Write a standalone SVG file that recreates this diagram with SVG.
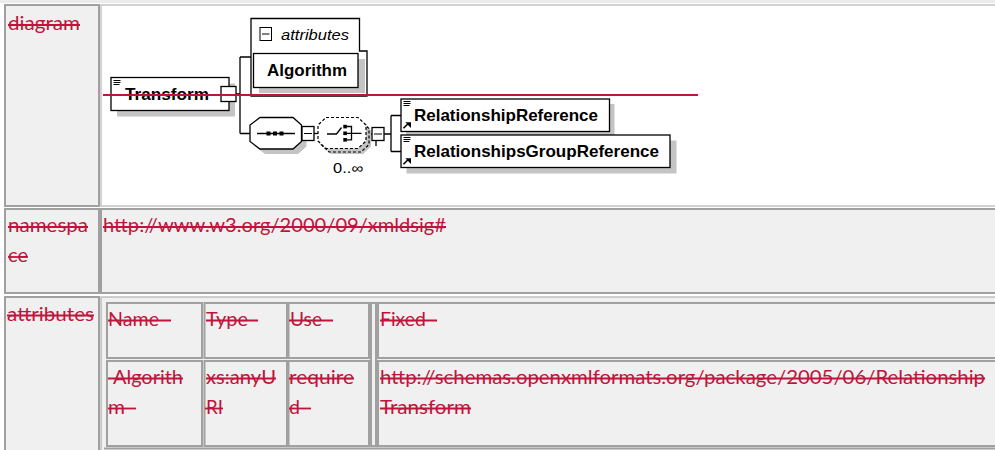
<svg xmlns="http://www.w3.org/2000/svg" width="995" height="450" viewBox="0 0 995 450">
<style>
.cg{fill:#f0f0f0;stroke:#a0a0a0;stroke-width:2}
.cw{fill:#fff;stroke:#c4c4c4;stroke-width:1.5}
.ct{fill:none;stroke:#a0a0a0;stroke-width:2}
.t{font-family:Lato,"Open Sans","Liberation Sans",sans-serif;font-size:20px;fill:#c0143c}
.s{stroke:#c0143c;stroke-width:1.8;fill:none}
.box{fill:#fff;stroke:#000;stroke-width:1.3}
.sh{fill:#c4c4c4}
.ln{fill:none;stroke:#000;stroke-width:1.3}
.ic{fill:none;stroke:#000;stroke-width:1}
.dash{fill:none;stroke:#000;stroke-width:1.2;stroke-dasharray:3 2}
.lb{font-family:"Liberation Sans",Arial,sans-serif;font-weight:bold;font-size:16.5px;fill:#000}
.li{font-family:"Liberation Sans",Arial,sans-serif;font-style:italic;font-size:15px;fill:#000}
.ln14{font-family:"Liberation Sans",Arial,sans-serif;font-size:14px;fill:#000}
</style>
<defs>
<g id="docicon"><path class="ic" d="M0,0.5 H7 M0,2.5 H7 M0,4.5 H6"/></g>
<g id="refarrow"><path d="M0,6.5 L4.5,2" stroke="#000" stroke-width="1.6"/><polygon points="1.8,0.5 7.5,0.5 7.5,6.2" fill="#000"/></g>
</defs>
<rect x="0" y="0" width="995" height="450" fill="#fff"/>
<rect x="0" y="0" width="995" height="3" fill="#ebebeb"/>
<g id="table">
<rect class="cg" x="5" y="5" width="94" height="201"/>
<rect class="cw" x="101" y="5" width="900" height="201"/>
<rect class="cg" x="5" y="209" width="94" height="84"/>
<rect class="cg" x="101" y="209" width="900" height="84"/>
<rect class="cg" x="5" y="297" width="94" height="160"/>
<rect x="101" y="297" width="900" height="160" fill="#f0f0f0" stroke="#b0b0b0" stroke-width="1.2"/>
<rect class="cg" x="107" y="303" width="95" height="55"/>
<rect class="cg" x="204.5" y="303" width="82.5" height="55"/>
<rect class="cg" x="288.5" y="303" width="80.5" height="55"/>
<rect class="cg" x="371" y="303" width="5" height="143"/>
<rect class="cg" x="378" y="303" width="630" height="55"/>
<rect class="cg" x="107" y="361" width="95" height="85"/>
<rect class="cg" x="204.5" y="361" width="82.5" height="85"/>
<rect class="cg" x="288.5" y="361" width="80.5" height="85"/>
<rect class="cg" x="378" y="361" width="630" height="85"/>
<path class="ct" d="M104,448.5 H995"/>
</g>
<g id="labels">
<text class="t" x="8" y="30" textLength="72" lengthAdjust="spacingAndGlyphs">diagram</text>
<path class="s" d="M8,25 H80"/>
<text class="t" x="8" y="232" textLength="80" lengthAdjust="spacingAndGlyphs">namespa</text>
<path class="s" d="M8,227 H88"/>
<text class="t" x="8" y="262" textLength="20" lengthAdjust="spacingAndGlyphs">ce</text>
<path class="s" d="M8,257 H28"/>
<text class="t" x="7" y="320.5" textLength="87" lengthAdjust="spacingAndGlyphs">attributes</text>
<path class="s" d="M7,315.5 H94"/>
<text class="t" x="103" y="232" textLength="343" lengthAdjust="spacingAndGlyphs">http://www.w3.org/2000/09/xmldsig#</text>
<path class="s" d="M103,227 H446"/>
<text class="t" x="108" y="325.5" textLength="51" lengthAdjust="spacingAndGlyphs">Name</text>
<path class="s" d="M108,320.5 H171"/>
<text class="t" x="206" y="325.5" textLength="42" lengthAdjust="spacingAndGlyphs">Type</text>
<path class="s" d="M206,320.5 H258"/>
<text class="t" x="290" y="325.5" textLength="32" lengthAdjust="spacingAndGlyphs">Use</text>
<path class="s" d="M289,320.5 H333"/>
<text class="t" x="380" y="325.5" textLength="46" lengthAdjust="spacingAndGlyphs">Fixed</text>
<path class="s" d="M380,320.5 H437"/>
<text class="t" x="113" y="383.5" textLength="70" lengthAdjust="spacingAndGlyphs">Algorith</text>
<path class="s" d="M108,378.5 H183"/>
<text class="t" x="108" y="413.5" textLength="17" lengthAdjust="spacingAndGlyphs">m</text>
<path class="s" d="M108,408.5 H136"/>
<text class="t" x="206" y="383.5" textLength="70" lengthAdjust="spacingAndGlyphs">xs:anyU</text>
<path class="s" d="M206,378.5 H276"/>
<text class="t" x="206" y="413.5" textLength="17" lengthAdjust="spacingAndGlyphs">RI</text>
<path class="s" d="M205,408.5 H223"/>
<text class="t" x="289" y="383.5" textLength="65" lengthAdjust="spacingAndGlyphs">require</text>
<path class="s" d="M289,378.5 H354"/>
<text class="t" x="289" y="413.5" textLength="11" lengthAdjust="spacingAndGlyphs">d</text>
<path class="s" d="M289,408.5 H311"/>
<text class="t" x="380" y="383.5" textLength="605" lengthAdjust="spacingAndGlyphs">http://schemas.openxmlformats.org/package/2005/06/Relationship</text>
<path class="s" d="M380,378.5 H985"/>
<text class="t" x="380" y="413.5" textLength="91" lengthAdjust="spacingAndGlyphs">Transform</text>
<path class="s" d="M380,408.5 H471"/>
</g>
<g id="connectors">
<path class="ln" d="M236,94 H240 M240,57 V133.5 M240,57 H251 M240,133.5 H250"/>
<path class="ln" d="M314,133.5 H318"/>
<path class="ln" d="M366,134 H372"/>
<path class="ln" d="M376,140.5 V146"/>
<path class="ln" d="M384,134 H391 M391,115.5 V151.5 M391,115.5 H401 M391,151.5 H401"/>
</g>
<g id="node-transform">
<rect class="sh" x="117" y="83.5" width="118" height="33"/>
<rect class="box" x="111" y="77.5" width="118" height="33"/>
<use href="#docicon" x="113.5" y="80"/>
<text class="lb" x="125" y="100" textLength="84" lengthAdjust="spacingAndGlyphs">Transform</text>
<rect class="box" x="221" y="86.5" width="15" height="15"/>
</g>
<g id="node-attributes">
<path class="ln" d="M251,96 V18.5 H359.5 V51 H367 V96 Z" fill="#fff"/>
<rect class="ic" x="260" y="27.5" width="11.5" height="13"/>
<path class="ic" d="M262,34 H269.5"/>
<text class="li" x="281" y="39.5" textLength="68" lengthAdjust="spacingAndGlyphs">attributes</text>
</g>
<g id="node-algorithm">
<rect class="sh" x="259" y="59" width="106" height="34"/>
<rect class="box" x="253.5" y="53.5" width="104.5" height="34"/>
<text class="lb" x="267" y="76" textLength="80" lengthAdjust="spacingAndGlyphs">Algorithm</text>
</g>
<g id="node-sequence">
<polygon class="sh" points="265,122.5 298,122.5 306.5,130 306.5,146.5 298,154 265,154 255,146.5 255,130"/>
<polygon class="box" points="260,117.5 293,117.5 301.5,125 301.5,141.5 293,149 260,149 250,141.5 250,125"/>
<path class="ln" d="M257,133.5 H295"/>
<rect x="266.5" y="131.5" width="4" height="4"/>
<rect x="273" y="131.5" width="4" height="4"/>
<rect x="279.5" y="131.5" width="4" height="4"/>
<rect class="box" x="302" y="126.5" width="12" height="14"/>
<path class="ic" d="M304,133.5 H312"/>
</g>
<g id="node-choice">
<polygon class="sh" points="331,123 363,123 371,130.5 371,146.5 363,154 331,154 323,146.5 323,130.5"/>
<polygon class="dash" points="329,121 361,121 369,128.5 369,144.5 361,152 329,152 321,144.5 321,128.5"/>
<polygon class="dash" style="fill:#fff" points="326,117.5 358,117.5 366,125 366,141 358,148.5 326,148.5 318,141 318,125"/>
<path class="ln" d="M327,134 H336.5 L341.5,127.5"/>
<rect x="343.3" y="124.8" width="3.6" height="3.6"/>
<rect x="343.3" y="131.5" width="3.6" height="3.6"/>
<rect x="343.3" y="138" width="3.6" height="3.6"/>
<path class="ln" d="M347,126.5 H351.5 V139.8 H347 M347,133.3 H361.5"/>
<rect class="box" x="372" y="127.5" width="12" height="13"/>
<path class="ic" d="M374,134 H382"/>
<text class="ln14" x="333" y="173" textLength="30" lengthAdjust="spacingAndGlyphs">0..∞</text>
</g>
<g id="node-relref">
<rect class="sh" x="406" y="104" width="208.5" height="32"/>
<rect class="box" x="401" y="99" width="208.5" height="32.5"/>
<use href="#docicon" x="403.5" y="101"/>
<use href="#refarrow" x="403.5" y="121.7"/>
<text class="lb" x="414" y="120.7" textLength="184" lengthAdjust="spacingAndGlyphs">RelationshipReference</text>
</g>
<g id="node-relgroupref">
<rect class="sh" x="406.5" y="140.5" width="270" height="33"/>
<rect class="box" x="401" y="135" width="269" height="32.5"/>
<use href="#docicon" x="403.5" y="137"/>
<use href="#refarrow" x="403.5" y="157.7"/>
<text class="lb" x="414" y="156.7" textLength="245" lengthAdjust="spacingAndGlyphs">RelationshipsGroupReference</text>
</g>
<path id="redline" d="M103,95 H698" stroke="#c0143c" stroke-width="2"/>
</svg>
